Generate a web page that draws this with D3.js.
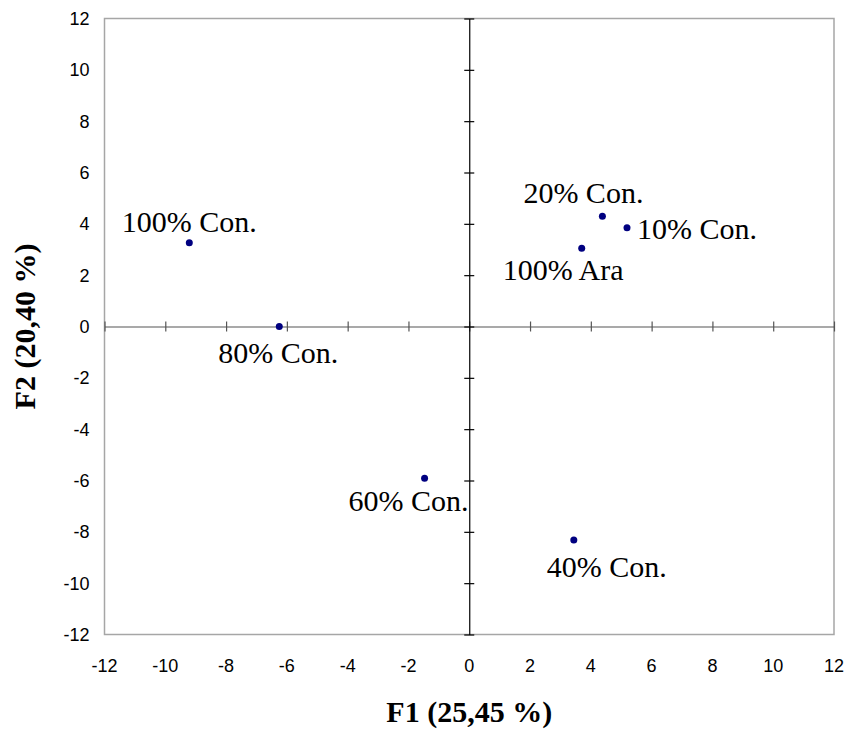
<!DOCTYPE html>
<html>
<head>
<meta charset="utf-8">
<script src="https://cdn.jsdelivr.net/npm/d3@7"></script>
<style>
  body { margin: 0; background: #fff; }
  svg { display: block; }
</style>
</head>
<body>
<svg id="chart" width="850" height="729"></svg>
<script>
// samples and their F1 / F2 scores
const names = ["100% Con.", "80% Con.", "60% Con.", "40% Con.", "20% Con.", "10% Con.", "100% Ara"];
const f1 = [-9.21, -6.25, -1.47, 3.44, 4.38, 5.19, 3.70];
const f2 = [3.26, 0.0, -5.91, -8.32, 4.30, 3.85, 3.05];
const ticks = [-12, -10, -8, -6, -4, -2, 0, 2, 4, 6, 8, 10, 12];

// where each label sits relative to its dot (px)
const labelPlace = {
  "100% Con.": { dx: 0, dy: -11, anchor: "middle" },
  "80% Con.": { dx: -61, dy: 36, anchor: "start" },
  "60% Con.": { dx: -76, dy: 33, anchor: "start" },
  "40% Con.": { dx: -27, dy: 36.5, anchor: "start" },
  "20% Con.": { dx: -79, dy: -13, anchor: "start" },
  "10% Con.": { dx: 10, dy: 11.5, anchor: "start" },
  "100% Ara": { dx: -79, dy: 31.5, anchor: "start" },
};

const svg = d3.select("#chart");
const margin = { top: 18.5, right: 16, bottom: 94.5, left: 104.5 };
const width = 850 - margin.left - margin.right;
const height = 729 - margin.top - margin.bottom;

const x = d3.scaleLinear().domain([-12, 12]).range([0, width]);
const y = d3.scaleLinear().domain([-12, 12]).range([height, 0]);

const g = svg.append("g").attr("transform", `translate(${margin.left},${margin.top})`);

// frame
g.append("rect")
  .attr("width", width)
  .attr("height", height)
  .attr("fill", "none")
  .attr("stroke", "#a6a6a6")
  .attr("stroke-width", 1.5);

// zero axes with crossing ticks
const xAxis = g.append("g")
  .attr("transform", `translate(0,${y(0)})`)
  .call(d3.axisBottom(x).tickValues(ticks).tickSize(5).tickSizeOuter(0).tickFormat(""));
xAxis.select(".domain").attr("stroke", "#555").attr("stroke-width", 1.2);
xAxis.selectAll(".tick line").attr("y1", -5).attr("stroke", "#555").attr("stroke-width", 1.2);

const yAxis = g.append("g")
  .attr("transform", `translate(${x(0)},0)`)
  .call(d3.axisLeft(y).tickValues(ticks).tickSize(5).tickSizeOuter(0).tickFormat(""));
yAxis.select(".domain").attr("stroke", "#000").attr("stroke-width", 1.2);
yAxis.selectAll(".tick line").attr("x1", 5).attr("stroke", "#000").attr("stroke-width", 1.2);

// tick labels around the frame
g.append("g")
  .selectAll("text")
  .data(ticks)
  .join("text")
  .attr("x", d => x(d))
  .attr("y", height + 37)
  .attr("text-anchor", "middle")
  .attr("font-family", "Liberation Sans, Arial, sans-serif")
  .attr("font-size", 18)
  .text(d => d);

g.append("g")
  .selectAll("text")
  .data(ticks)
  .join("text")
  .attr("x", -15)
  .attr("y", d => y(d) + 6.5)
  .attr("text-anchor", "end")
  .attr("font-family", "Liberation Sans, Arial, sans-serif")
  .attr("font-size", 18)
  .text(d => d);

// points
const pts = names.map((n, i) => ({ name: n, f1: f1[i], f2: f2[i] }));

g.append("g")
  .selectAll("circle")
  .data(pts)
  .join("circle")
  .attr("cx", d => x(d.f1))
  .attr("cy", d => y(d.f2))
  .attr("r", 3.5)
  .attr("fill", "#000080");

g.append("g")
  .selectAll("text")
  .data(pts)
  .join("text")
  .attr("x", d => x(d.f1) + labelPlace[d.name].dx)
  .attr("y", d => y(d.f2) + labelPlace[d.name].dy)
  .attr("text-anchor", d => labelPlace[d.name].anchor)
  .attr("font-family", "Liberation Serif, Times New Roman, serif")
  .attr("font-size", 30)
  .text(d => d.name);

// axis titles
svg.append("text")
  .attr("x", margin.left + x(0))
  .attr("y", 722)
  .attr("text-anchor", "middle")
  .attr("font-family", "Liberation Serif, Times New Roman, serif")
  .attr("font-weight", "bold")
  .attr("font-size", 30)
  .text("F1 (25,45 %)");

svg.append("text")
  .attr("transform", `translate(35,${margin.top + y(0)}) rotate(-90)`)
  .attr("text-anchor", "middle")
  .attr("font-family", "Liberation Serif, Times New Roman, serif")
  .attr("font-weight", "bold")
  .attr("font-size", 30)
  .text("F2 (20,40 %)");
</script>
</body>
</html>
